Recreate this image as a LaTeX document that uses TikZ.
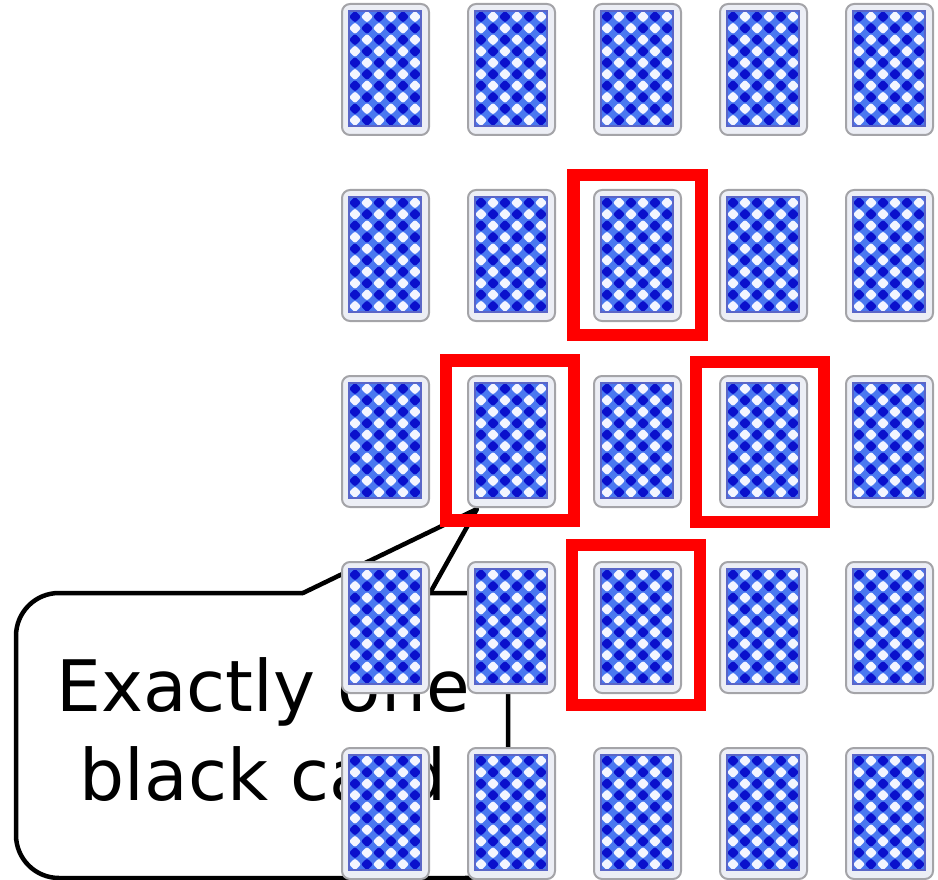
\documentclass[tikz,border=0pt]{standalone}
\usepackage{fontspec}
\setmainfont{DejaVu Sans}
\definecolor{cardbg}{HTML}{ECEEF5}
\definecolor{cardedge}{HTML}{A4A4A8}
\definecolor{ltblue}{HTML}{4A78F0}
\definecolor{dkblue}{HTML}{0A10CC}
\definecolor{wtblue}{HTML}{F4F6FF}
\definecolor{inedge}{HTML}{5A66C8}
\tikzset{
  card/.pic={
    \draw[cardedge, line width=2, fill=cardbg, rounded corners=8] (-43.5,-65.5) rectangle (43.5,65.5);
    \fill[ltblue] (-36.5,-58.5) rectangle (35.5,56.5);
    \foreach \i in {0,...,5}{\foreach \j in {0,...,9}{
      \pgfmathtruncatemacro{\cpar}{mod(\i+\j,2)}
      \pgfmathsetmacro{\cx}{-36.5+(\i+0.5)*12}
      \pgfmathsetmacro{\cy}{-58.5+(\j+0.5)*11.5}
      \ifnum\cpar=0 \def\dcol{dkblue}\else\def\dcol{wtblue}\fi
      \fill[\dcol, rounded corners=2.2] ({\cx-6.2},{\cy}) -- ({\cx},{\cy-6}) -- ({\cx+6.2},{\cy}) -- ({\cx},{\cy+6}) -- cycle;
    }}
    \draw[inedge, line width=2] (-36.5,-58.5) rectangle (35.5,56.5);
  },
  calloutbox/.style={draw=black, line width=4.5, rounded corners=43, fill=white,
    minimum width=492, minimum height=285, inner sep=0},
  ptr/.style={draw=black, line width=4.5, line join=round, line cap=round},
  lbl/.style={font=\fontsize{71}{90}\selectfont, inner sep=0, anchor=base},
  redbox/.style={draw=red, line width=12.5, minimum width=128, minimum height=160, inner sep=0}
}
\begin{document}
\begin{tikzpicture}[x=1pt, y=-1pt]
  \useasboundingbox (0,0) rectangle (938,880);
  % callout
  \node[calloutbox] (co) at (262,735.5) {};
  \coordinate (pa) at (303,593);
  \coordinate (pb) at (430,593);
  \coordinate (tip) at (477,509);
  \fill[white] (303,595.8) -- (pa) -- (tip) -- (pb) -- (430,595.8) -- cycle;
  \draw[ptr] (pa) -- (tip) -- (pb);
  \node[lbl] (t1) at (263,711) {Exactly one};
  \node[lbl] (t2) at (263,800) {black card};
  % cards
  \foreach \r in {0,...,4}{\foreach \c in {0,...,4}{
    \coordinate (c\r\c) at ({385.5+126*\c},{69.5+186*\r});
    \pic at (c\r\c) {card};
  }}
  % red boxes
  \node[redbox] (r1) at (637.5,255) {};
  \node[redbox] (r2) at (510,440.5) {};
  \node[redbox] (r3) at (760,442) {};
  \node[redbox] (r4) at (636,625) {};
\end{tikzpicture}
\end{document}
